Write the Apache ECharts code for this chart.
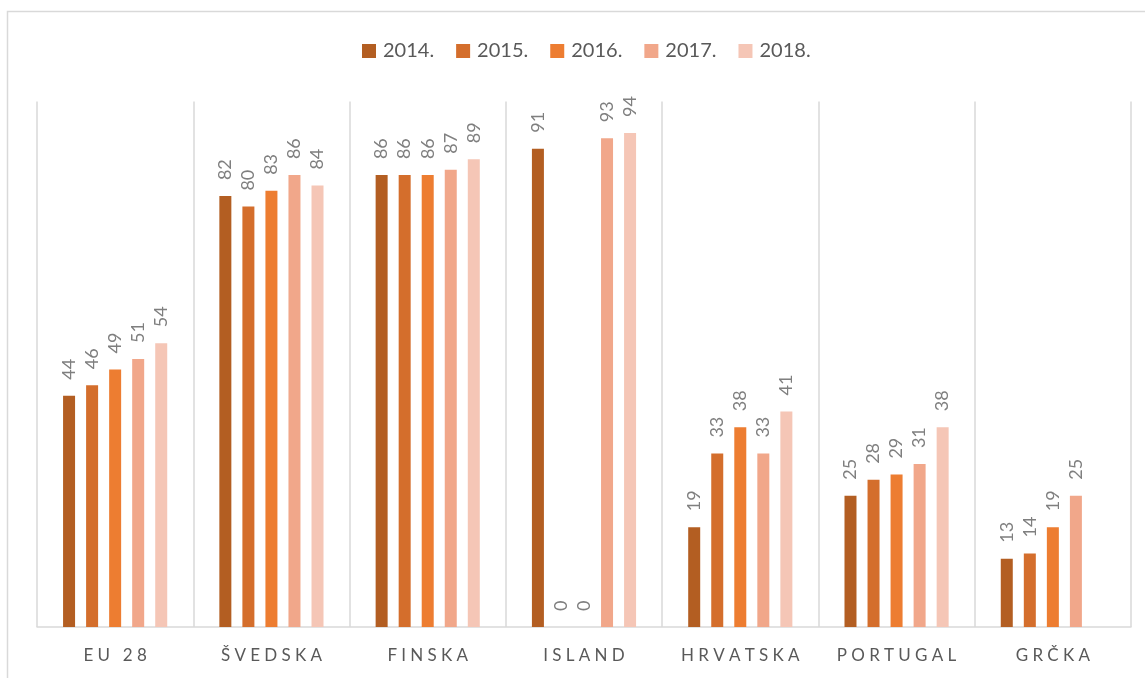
<!DOCTYPE html>
<html>
<head>
<meta charset="utf-8">
<script src="https://cdn.jsdelivr.net/npm/echarts@6/dist/echarts.min.js"></script>
<style>
html,body{margin:0;padding:0;background:#fff;}
#chart{width:1145px;height:678px;}
</style>
</head>
<body>
<div id="chart"></div>
<script>
var categories = ['EU 28', 'ŠVEDSKA', 'FINSKA', 'ISLAND', 'HRVATSKA', 'PORTUGAL', 'GRČKA'];
var seriesNames = ['2014.', '2015.', '2016.', '2017.', '2018.'];
var v2014 = [44, 82, 86, 91, 19, 25, 13];
var v2015 = [46, 80, 86, 0, 33, 28, 14];
var v2016 = [49, 83, 86, 0, 38, 29, 19];
var v2017 = [51, 86, 87, 93, 33, 31, 25];
var v2018 = [54, 84, 89, 94, 41, 38, null];
var colors = ['#B35E22', '#D46E2C', '#ED7D31', '#F1A78A', '#F5C6B6'];

var allValues = [v2014, v2015, v2016, v2017, v2018];
var FONT = 'Lato, "Open Sans", sans-serif';

var chart = echarts.init(document.getElementById('chart'), null, {renderer: 'canvas'});
var series = seriesNames.map(function (name, i) {
  return {
    name: name,
    type: 'bar',
    data: allValues[i],
    barWidth: 12,
    barGap: '92%',
    itemStyle: {color: colors[i]},
    label: {
      show: true,
      position: 'top',
      rotate: 90,
      align: 'left',
      verticalAlign: 'middle',
      distance: 15,
      offset: [1, 0],
      color: '#7F7F7F',
      fontSize: 18,
      fontFamily: FONT
    }
  };
});

chart.setOption({
  animation: false,
  color: colors,
  graphic: [{
    type: 'rect',
    shape: {x: 7.5, y: 11.5, width: 1300, height: 900},
    style: {fill: 'none', stroke: '#D9D9D9', lineWidth: 1.5},
    silent: true,
    z: -1
  }],
  legend: {
    top: 41,
    left: 362,
    padding: 0,
    itemWidth: 14,
    itemHeight: 14,
    itemGap: 22,
    icon: 'rect',
    textStyle: {color: '#595959', fontSize: 20, fontFamily: FONT, padding: [0, 0, 0, 2]},
    data: seriesNames
  },
  grid: {left: 37, right: 14, top: 101.5, bottom: 51, containLabel: false},
  xAxis: {
    type: 'category',
    data: categories,
    axisLine: {show: true, lineStyle: {color: '#D9D9D9', width: 1.5}},
    axisTick: {show: false},
    splitLine: {show: true, interval: 0, lineStyle: {color: '#D9D9D9', width: 1.5}},
    axisLabel: {
      interval: 0,
      margin: 20,
      color: '#595959',
      fontSize: 17,
      fontFamily: FONT,
      formatter: function (v) { return v.split('').join('\u2005'); }
    }
  },
  yAxis: {
    type: 'value',
    min: 0,
    max: 100,
    show: false,
    splitLine: {show: false}
  },
  series: series
});
</script>
</body>
</html>
